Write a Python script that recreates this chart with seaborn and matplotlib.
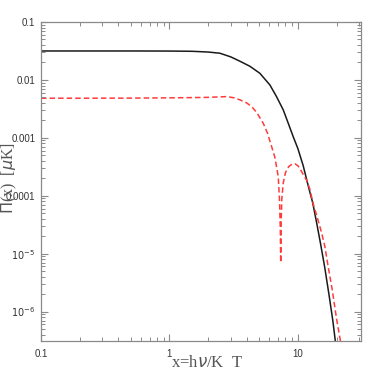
import matplotlib
matplotlib.use("Agg")
import matplotlib.pyplot as plt
import seaborn as sns
import pandas as pd

# black solid curve
x_black = [0.1, 0.3, 0.5, 1.0, 1.5, 2.0, 2.47, 3.0, 3.54, 4.23, 5.06, 6.05, 6.8,
           7.69, 8.4, 9.19, 10.0, 11.0, 11.7, 12.4, 13.0, 14.0, 15.0, 16.2, 17.5,
           18.7, 19.6]
y_black = [0.0316, 0.0316, 0.0316, 0.0315, 0.0312, 0.0303, 0.0289, 0.025, 0.021,
           0.0172, 0.013, 0.0082, 0.0052, 0.00304, 0.0018, 0.00105, 6.5e-4,
           3.3e-4, 1.9e-4, 1.15e-4, 7.8e-5, 3.4e-5, 1.5e-5, 5.7e-6, 1.9e-6,
           7e-7, 3e-7]

# red dashed curve
x_red = [0.1, 0.2, 0.5, 1.0, 1.5, 2.0, 2.5, 2.8, 3.2, 3.54, 4.0, 4.4, 4.8, 5.37,
         5.8, 6.24, 6.62, 7.03, 7.2, 7.3, 7.35, 7.42, 7.5, 7.69, 8.0, 8.5, 9.0,
         9.48, 10.0, 10.6, 11.3, 11.7, 12.4, 13.1, 14.0, 15.3, 16.2, 17.2, 18.5,
         20.0, 21.5]
y_red = [0.00483, 0.00483, 0.00485, 0.0049, 0.00495, 0.005, 0.0051, 0.00515,
         0.0049, 0.00452, 0.0040, 0.0034, 0.0027, 0.00179, 0.0012, 7.1e-4,
         4.6e-4, 2.15e-4, 8e-5, 2.5e-5, 7e-6, 4e-5, 9e-5, 1.66e-4, 2.5e-4,
         3.2e-4, 3.5e-4, 3.56e-4, 3.3e-4, 2.7e-4, 2.1e-4, 1.85e-4, 1.3e-4,
         7.5e-5, 4.6e-5, 2.3e-5, 1.35e-5, 6e-6, 2.4e-6, 7.5e-7, 3e-7]

y_ticks = [1e-6, 1e-5, 1e-4, 1e-3, 1e-2, 1e-1]
y_ticklabels = [r"$10^{-6}$", r"$10^{-5}$", "0.0001", "0.001", "0.01", "0.1"]
x_ticks = [0.1, 1, 10]
x_ticklabels = ["0.1", "1", "10"]

df = pd.concat([
    pd.DataFrame({"x": x_black, "y": y_black, "curve": "black"}),
    pd.DataFrame({"x": x_red, "y": y_red, "curve": "red"}),
], ignore_index=True)

sns.set_style("ticks")
plt.rcParams.update({
    "font.family": ["Liberation Sans", "DejaVu Sans"],
    "xtick.direction": "in", "ytick.direction": "in",
    "xtick.top": True, "ytick.right": True,
    "xtick.bottom": True, "ytick.left": True,
    "xtick.major.size": 5, "ytick.major.size": 5,
    "xtick.minor.size": 3, "ytick.minor.size": 3,
    "xtick.major.width": 0.8, "ytick.major.width": 0.8,
    "xtick.minor.width": 0.7, "ytick.minor.width": 0.7,
    "xtick.color": "#8a8a8a", "ytick.color": "#8a8a8a",
    "xtick.labelcolor": "#333333", "ytick.labelcolor": "#333333",
    "xtick.labelsize": 7, "ytick.labelsize": 7,
    "xtick.major.pad": 6, "ytick.major.pad": 4,
    "axes.edgecolor": "#8a8a8a", "axes.linewidth": 0.9,
    "axes.axisbelow": False,
})

fig = plt.figure(figsize=(3.82, 3.82), dpi=100)
ax = fig.add_axes([41/382, 1-341/382, 320/382, 319/382])

sns.lineplot(data=df, x="x", y="y", hue="curve", style="curve",
             palette={"black": "#1a1a1a", "red": "#ff3b3b"},
             dashes={"black": "", "red": (3.6, 2.0)},
             lw=1.1, legend=False, ax=ax)

ax.set_xscale("log")
ax.set_yscale("log")
ax.set_xlim(0.1, 31)
ax.set_ylim(3.1e-7, 0.1)
ax.set_xticks(x_ticks)
ax.set_xticklabels(x_ticklabels)
ax.set_yticks(y_ticks)
ax.set_yticklabels(y_ticklabels)

ax.set_xlabel(r"x=h$\nu$/K  T", family=["Liberation Serif", "DejaVu Serif"],
              fontsize=12, color="#555555")
ax.set_ylabel(r"$\Pi$(x)  [$\mu$K]", family=["Liberation Serif", "DejaVu Serif"],
              fontsize=11.5, color="#555555")
ax.xaxis.set_label_coords(0.52, -0.045)
ax.yaxis.set_label_coords(-0.068, 0.51)

fig.savefig("out.png", dpi=100)
